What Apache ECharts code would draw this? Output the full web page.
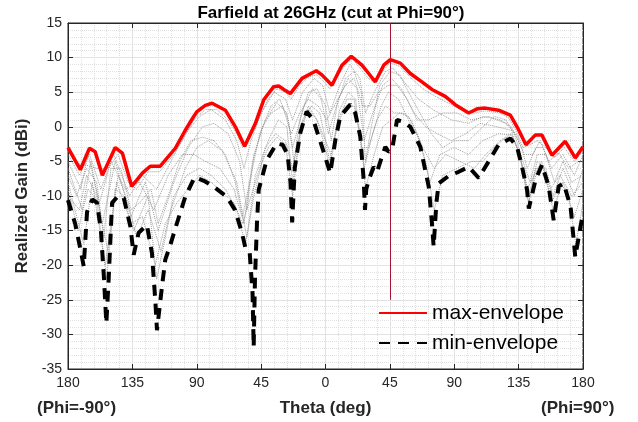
<!DOCTYPE html>
<html>
<head>
<meta charset="utf-8">
<script src="https://cdn.jsdelivr.net/npm/echarts@6/dist/echarts.min.js"></script>
<style>
html,body{margin:0;padding:0;background:#fff;}
#chart{width:638px;height:422px;}
</style>
</head>
<body>
<div id="chart"></div>
<script>
// ---- Data ----
const xTicks = [-180, -135, -90, -45, 0, 45, 90, 135, 180];
const yTicks = [-35, -30, -25, -20, -15, -10, -5, 0, 5, 10, 15];

const maxTheta = [-180,-171.4,-165,-161,-156,-147,-142,-135.5,-128,-122.5,-115.5,-105,-98,-93,-89.8,-84,-79.3,-70,-63,-56.5,-49,-43.2,-36.2,-32.7,-29.2,-24.6,-16.4,-6.5,-2.5,4.5,11.5,18,25.5,30.2,34.8,40.7,45.3,52.3,59.3,67.4,74.4,83.7,90.7,100.1,106,111.7,121,129.2,133.9,140.1,146.6,151.3,158.3,167.6,174.6,180];
const maxGain  = [-3,-6.2,-3.1,-3.6,-7,-3,-3.8,-8.6,-6.7,-5.7,-5.7,-3.1,-0.5,1.2,2.2,3.1,3.4,2.4,0,-2.8,0.5,3.9,5.8,5.9,5.4,4.8,7,8.1,7.5,6,8.9,10.2,8.9,7.7,6.5,8.9,9.7,9.2,7.7,6.5,5.4,4.4,3.2,2,2.6,2.7,2.4,1.7,0,-2.6,-1.2,-1.2,-4.1,-2.1,-4.5,-2.9];

const minTheta = [-180,-175,-171,-169,-166.7,-163,-159.7,-157,-155,-153.2,-151.6,-149.2,-145,-141,-136.4,-134.1,-130.6,-124.8,-121.3,-119,-117.8,-114.3,-112,-108.5,-103.8,-98,-91.5,-85,-78.6,-69,-63.3,-58.4,-56,-53,-51,-50.2,-49.3,-47.9,-46.7,-41.1,-34.1,-30,-26.5,-24.5,-23.3,-21.5,-17.8,-13.2,-8.5,-1.8,1.5,3.3,6.9,10.3,17.3,20.8,24.3,26.7,27.6,28.5,30.2,33.7,36,39.5,41.8,44,46.5,50,54.6,59.3,66.3,72.2,74.4,75.6,77.5,79.1,86.1,93.1,100.1,107.1,111.7,118.7,121,129.2,133.9,137.4,140.9,142.1,146.8,151.3,156,159.5,163,166.5,171.3,174.6,178.3,180];
const minGain  = [-10.6,-14,-18,-20.2,-12.3,-10.5,-11,-15,-21.4,-28.4,-22.1,-11,-10,-10.3,-14.4,-18.5,-15.3,-14.2,-18.3,-25,-29.4,-23.1,-19.2,-17.1,-13.9,-10.1,-7.3,-7.8,-8.6,-10.1,-12,-15.3,-17.5,-18.2,-24,-31.8,-22,-13.9,-9.1,-4.8,-2.4,-2.6,-4,-8,-13.8,-6,-1,2.2,1,-3.3,-5.5,-6.7,-1.9,1.5,3.2,2,-1.4,-7.7,-12,-9,-7.7,-5.8,-6.5,-4.3,-2.9,-3.6,-3.4,1,0.7,0,-2.9,-8.7,-13.9,-17.3,-11,-8.2,-7.1,-6.5,-5.8,-7.4,-5.8,-3.4,-2.6,-1.7,-2.9,-5.8,-9.1,-11.8,-7.7,-5.5,-8.6,-13.5,-8.6,-8.2,-11.5,-18.8,-14.4,-12.5];

// individual beam cuts (grey dotted), [theta, gain]
const beam1 = [[-180,-4],[-172,-7],[-165,-4],[-157,-9],[-148,-4],[-137,-10],[-128,-7],[-118,-9],[-108,-5],[-98,-1],[-88,1.5],[-80,2.5],[-70,1],[-62,-2],[-57,-6],[-52,-2],[-45,2],[-36,5],[-28,4],[-23,1],[-16,5],[-8,7],[-2,6],[3,2],[10,6],[17,9],[24,7],[28,2],[34,5],[42,8],[47,8.5],[55,6.5],[65,4],[75,2.5],[88,1],[100,0.5],[110,1.5],[122,1],[130,0],[137,-3],[141,-6],[147,-3],[152,-3],[158,-6],[166,-4],[174,-7],[180,-4]];
const beam2 = [[-180,-6],[-170,-12],[-164,-5],[-156,-14],[-147,-5],[-136,-13],[-126,-8],[-117,-15],[-106,-8],[-96,-3],[-86,0],[-78,0.5],[-68,-1],[-60,-5],[-55,-12],[-50,-4],[-42,1],[-34,3.5],[-27,2],[-23,-3],[-15,3],[-9,5.5],[-3,4],[2,-1],[9,4],[16,7],[22,5.5],[27,-2],[33,2],[40,6],[46,7],[53,5.5],[62,2],[70,0],[78,-1],[88,-2],[98,-1],[108,0.5],[120,0],[130,-0.5],[138,-6],[142,-10],[148,-5],[154,-6],[159,-10],[166,-6],[174,-10],[180,-6]];
const beam3 = [[-180,-8],[-169,-17],[-163,-8],[-154,-20],[-146,-8],[-134,-15],[-124,-10],[-118,-22],[-108,-12],[-98,-6],[-90,-3],[-82,-2],[-72,-3.5],[-62,-8],[-55,-16],[-49,-7],[-40,-2],[-33,1],[-27,0],[-23,-8],[-16,1],[-10,3],[-4,2],[3,-5],[10,2.5],[16,5],[21,4],[27,-6],[33,-1],[39,3],[44,5],[51,4],[58,1],[66,-2],[73,-8],[80,-4],[90,-3],[100,-4],[110,-2],[121,-1],[130,-1.2],[136,-4],[142,-11],[147,-6],[153,-6],[159,-12],[166,-8],[174,-13],[180,-9]];
const beam4 = [[-180,-5],[-171,-9],[-166,-4],[-158,-11],[-150,-5],[-140,-9],[-130,-8],[-120,-12],[-110,-7],[-100,-4],[-92,-4],[-84,-5],[-74,-6],[-64,-9],[-57,-14],[-51,-5],[-44,0],[-38,2],[-30,3],[-24,-1],[-18,2],[-12,4],[-5,3],[1,1],[6,3],[14,6],[20,7],[26,3],[31,3],[37,5],[44,6],[50,6],[57,4],[64,1],[72,1],[82,2],[92,2],[102,1],[114,1.5],[126,0.5],[133,-1],[139,-4],[145,-4],[150,-2],[156,-5],[163,-3.8],[170,-6],[177,-5],[180,-5]];
const beam5 = [[-180,-10],[-172,-12],[-167,-7],[-160,-10],[-152,-18],[-145,-7],[-138,-11],[-132,-16],[-124,-12],[-115,-18],[-106,-10],[-97,-7],[-88,-6],[-80,-7],[-70,-9],[-62,-12],[-56,-17],[-50,-10],[-42,-3],[-35,-1],[-28,-2],[-23,-6],[-17,0],[-12,3],[-6,1],[0,-2],[4,-4],[9,1],[15,4],[20,4],[25,-3],[30,-3],[36,1],[42,3],[48,2],[54,2],[60,1],[68,-3],[76,-6],[84,-4],[94,-5],[104,-6],[112,-4],[122,-2],[130,-1],[136,-4],[141,-9],[146,-7],[151,-5],[157,-9],[164,-7],[172,-10],[180,-8]];
const beam6 = [[-180,-3.5],[-175,-5.2],[-168,-5.5],[-160,-6],[-152,-6],[-145,-4],[-138,-8],[-132,-9],[-124,-6.5],[-116,-6.5],[-108,-4.5],[-100,-2],[-92,1],[-84,2.5],[-76,2.5],[-68,1],[-62,-1],[-58,-3],[-53,-1.8],[-47,1],[-40,4],[-34,5.5],[-28,5],[-24,4],[-18,6],[-12,7.2],[-6,7.5],[-1,6.5],[3,5.5],[9,7.5],[15,9.3],[19,9.8],[24,8.5],[30,7],[35,6.3],[40,8],[45,9.3],[52,8.7],[60,7],[68,5.5],[76,4.5],[85,3.5],[95,2.5],[104,2],[112,2.3],[122,2],[128,1.3],[133,-0.5],[138,-3],[143,-2.6],[148,-2],[154,-3],[160,-4.5],[167,-3],[174,-5],[180,-3.5]];
const beam7 = [[-180,-7],[-174,-10],[-167,-6],[-160,-8],[-155,-16],[-150,-6],[-143,-6],[-136,-12],[-130,-11],[-122,-9],[-117,-14],[-110,-10],[-102,-5],[-94,-2],[-86,-1.5],[-78,-2],[-70,-4],[-63,-8],[-58,-13],[-53,-8],[-46,-1],[-38,3],[-32,4],[-26,1],[-22,-5],[-18,1],[-12,5],[-6,5.5],[0,3],[4,-2],[8,3],[14,7],[20,8],[25,5],[28,-5],[32,0],[38,6],[45,8],[52,7.5],[58,5],[66,2],[74,-1],[82,-3],[90,-2],[100,-2],[110,0],[118,1.5],[126,1],[132,-1],[138,-5],[143,-8],[148,-4],[154,-4],[160,-8],[166,-5],[172,-8],[180,-7]];
const beam8 = [[-180,-9],[-173,-15],[-166,-9],[-160,-10.5],[-153,-22],[-147,-9],[-141,-10],[-136,-14],[-128,-13],[-119,-20],[-112,-14],[-104,-11],[-96,-9],[-88,-7],[-80,-8],[-72,-9.5],[-64,-11],[-58,-14],[-52,-10],[-46,-6],[-40,-3],[-34,-1.5],[-28,-2.5],[-23,-10],[-18,-1],[-12,2.5],[-6,1],[0,-3],[3,-6],[8,0],[14,3],[20,3],[25,-2],[28,-9],[34,-4],[40,0],[46,1],[52,2],[58,1.5],[64,-1],[70,-5],[76,-12],[82,-7],[92,-6],[102,-5],[110,-5],[118,-3],[126,-1.5],[132,-2],[136,-4.3],[142,-11],[147,-7],[152,-5.8],[158,-11],[164,-8],[170,-10],[175,-17],[180,-11]];

const markerTheta = 45;          // vertical marker at theta = 45
const markerRange = [15, -25];   // span of the marker line (dBi)

// ---- Build chart ----
const FONT = '"Liberation Sans", Arial, Helvetica, sans-serif';
const AX = '#262626';
const zip = (a, b) => a.map((v, i) => [v, b[i]]);
const beams = [beam1, beam2, beam3, beam4, beam5, beam6, beam7, beam8];

const greySeries = beams.map((d, i) => ({
  name: 'beam' + (i + 1),
  type: 'line',
  data: d,
  symbol: 'none',
  silent: true,
  z: 1,
  lineStyle: { color: '#8c8c8c', width: 1, type: 'dotted', opacity: 0.85 }
}));

const chart = echarts.init(document.getElementById('chart'), null, { renderer: 'canvas' });
const option = {
  animation: false,
  backgroundColor: '#ffffff',
  textStyle: { fontFamily: FONT },
  title: {
    text: 'Farfield at 26GHz (cut at Phi=90°)',
    left: 326, top: 0, textAlign: 'center',
    textStyle: { fontSize: 17, fontWeight: 'bold', color: '#000', fontFamily: FONT }
  },
  grid: { left: 68, right: 55, top: 23, bottom: 53, show: true, borderColor: AX, borderWidth: 1, backgroundColor: 'transparent' },
  legend: {
    data: [
      { name: 'max-envelope', itemStyle: { opacity: 0 } },
      { name: 'min-envelope', itemStyle: { opacity: 0 } }
    ],
    orient: 'vertical', left: 373, top: 297,
    itemWidth: 48, itemHeight: 14, itemGap: 8,
    textStyle: { fontSize: 21, color: '#000', fontFamily: FONT, lineHeight: 22 },
    selectedMode: false
  },
  xAxis: [{
    type: 'value', min: xTicks[0], max: xTicks[xTicks.length - 1], interval: 45, position: 'bottom',
    axisLine: { show: true, onZero: false, lineStyle: { color: AX } },
    axisTick: { show: true, inside: true, length: 5, lineStyle: { color: AX } },
    axisLabel: { formatter: v => String(Math.abs(v)), fontSize: 14, color: AX, margin: 7, fontFamily: FONT },
    splitLine: { show: true, lineStyle: { color: '#e2e2e2', width: 1 } },
    minorTick: { show: false, splitNumber: 5 },
    minorSplitLine: { show: true, lineStyle: { color: '#e0e0e0', width: 1, type: 'dotted' } },
    name: 'Theta (deg)', nameLocation: 'middle', nameGap: 31,
    nameTextStyle: { fontSize: 17, fontWeight: 'bold', color: AX, fontFamily: FONT }
  }, {
    type: 'value', min: xTicks[0], max: xTicks[xTicks.length - 1], interval: 45, position: 'top',
    axisLine: { show: true, onZero: false, lineStyle: { color: AX } },
    axisTick: { show: true, inside: true, length: 5, lineStyle: { color: AX } },
    axisLabel: { show: false }, splitLine: { show: false }
  }],
  yAxis: [{
    type: 'value', min: yTicks[0], max: yTicks[yTicks.length - 1], interval: 5, position: 'left',
    axisLine: { show: true, onZero: false, lineStyle: { color: AX } },
    axisTick: { show: true, inside: true, length: 5, lineStyle: { color: AX } },
    axisLabel: { fontSize: 14, color: AX, margin: 6, fontFamily: FONT },
    splitLine: { show: true, lineStyle: { color: '#e2e2e2', width: 1 } },
    minorTick: { show: false, splitNumber: 5 },
    minorSplitLine: { show: true, lineStyle: { color: '#e0e0e0', width: 1, type: 'dotted' } },
    name: 'Realized Gain (dBi)', nameLocation: 'middle', nameGap: 36,
    nameTextStyle: { fontSize: 17, fontWeight: 'bold', color: AX, fontFamily: FONT }
  }, {
    type: 'value', min: yTicks[0], max: yTicks[yTicks.length - 1], interval: 5, position: 'right',
    axisLine: { show: true, onZero: false, lineStyle: { color: AX } },
    axisTick: { show: true, inside: true, length: 5, lineStyle: { color: AX } },
    axisLabel: { show: false }, splitLine: { show: false }
  }],
  graphic: [
    { type: 'text', left: 37, top: 400, style: { text: '(Phi=-90°)', font: 'bold 17px ' + FONT, fill: AX } },
    { type: 'text', left: 541, top: 400, style: { text: '(Phi=90°)', font: 'bold 17px ' + FONT, fill: AX } }
  ],
  series: greySeries.concat([
    {
      name: 'max-envelope', type: 'line', data: zip(maxTheta, maxGain), symbol: 'none', z: 5,
      lineStyle: { color: '#ff0000', width: 3.5, type: 'solid' },
      itemStyle: { color: '#ff0000' },
      markLine: {
        silent: true, symbol: 'none', label: { show: false },
        lineStyle: { color: '#A2142F', width: 1, type: 'solid' },
        data: [[{ coord: [markerTheta, markerRange[0]] }, { coord: [markerTheta, markerRange[1]] }]]
      }
    },
    {
      name: 'min-envelope', type: 'line', data: zip(minTheta, minGain), symbol: 'none', z: 6,
      lineStyle: { color: '#000000', width: 4, type: [11, 8] },
      itemStyle: { color: '#000000' }
    }
  ])
};
chart.setOption(option);
</script>
</body>
</html>
